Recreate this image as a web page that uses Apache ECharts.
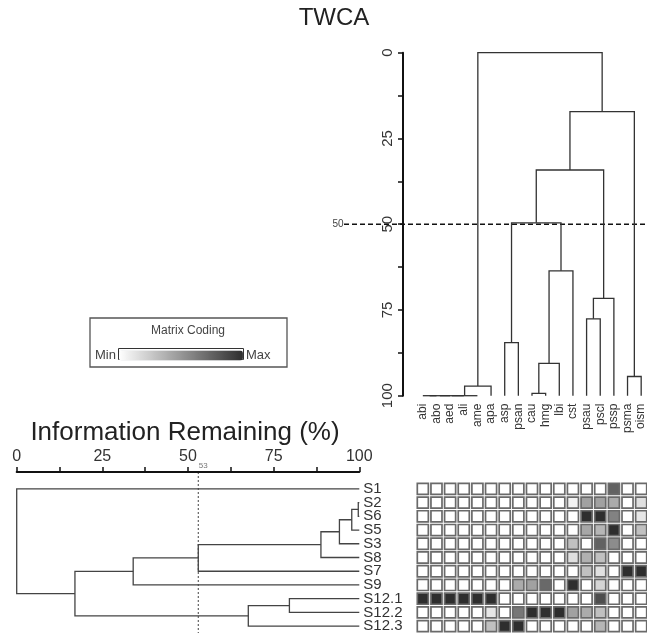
<!DOCTYPE html>
<html><head><meta charset="utf-8">
<script src="https://cdn.jsdelivr.net/npm/echarts@6/dist/echarts.min.js"></script>
<style>html,body{margin:0;padding:0;background:#fff}#c{width:647px;height:633px}</style>
</head><body><div id="c"></div>
<script>
// ---- data ----
const speciesLabels = ['abi','abo','aed','ali','ame','apa','asp','psan','cau','hmg','lbi','cst','psau','pscl','pssp','psma','oism'];
const sampleLabels = ['S1','S2','S6','S5','S3','S8','S7','S9','S12.1','S12.2','S12.3'];
const axisTicks = [0, 25, 50, 75, 100];
const leafHeight = 100;
// R-style merges: negative = leaf (-1 is first leaf), positive = earlier merge number; third = height
const topMerges = [
  [-1,-2,100],[1,-3,100],[2,-4,100],[3,-5,100],[4,-6,97.2],
  [-9,-10,99.3],[-7,-8,84.5],[6,-11,90.6],[8,-12,63.6],
  [-13,-14,77.6],[10,-15,71.6],[-16,-17,94.4],
  [7,9,49.6],[13,11,34.2],[14,12,17.2],[5,15,0]
];
const bottomMerges = [
  [-2,-3,99.7],[1,-4,97.8],[2,-5,94.2],[3,-6,88.8],[4,-7,53],[5,-8,34],
  [-9,-10,79.6],[7,-11,67.6],[6,8,17],[-1,9,0]
];
const topCut = 50;
const bottomCut = 53;
// matrix coding (0 = min, 1 = max), rows follow sampleLabels, columns follow speciesLabels
const rowS1   = [0,0,0,0,0,0,0,0,0,0,0,0,0,0,0.75,0,0];
const rowS2   = [0,0,0,0,0,0,0,0,0,0,0,0.06,0.45,0.45,0.4,0,0.15];
const rowS6   = [0,0,0,0,0,0,0,0,0,0,0,0,1,1,0.6,0,0.12];
const rowS5   = [0,0,0,0,0,0,0,0,0,0,0,0,0.42,0.35,1,0,0.3];
const rowS3   = [0,0,0,0,0,0,0,0,0,0,0,0.3,0,0.75,0.55,0,0];
const rowS8   = [0,0,0,0,0,0,0,0,0,0,0,0.15,0.38,0.3,0,0,0];
const rowS7   = [0,0,0,0,0,0,0,0,0,0,0,0,0.3,0.15,0,1,1];
const rowS9   = [0,0,0,0,0,0,0,0.4,0.45,0.72,0,1,0,0.2,0,0,0];
const rowS121 = [1,1,1,1,1,1,0,0,0,0,0,0,0,0.85,0,0,0];
const rowS122 = [0,0,0,0,0,0.12,0,0.65,1,1,1,0.45,0.4,0.3,0,0,0];
const rowS123 = [0,0,0,0,0,0.3,1,1,0,0,0,0,0,0.35,0,0,0];
const matrixRows = [rowS1,rowS2,rowS6,rowS5,rowS3,rowS8,rowS7,rowS9,rowS121,rowS122,rowS123];

// ---- build ----
function dendroSegments(merges){
  const pos = [], ht = [], segs = [];
  const node = id => id < 0 ? {p: -id - 1, h: leafHeight} : {p: pos[id - 1], h: ht[id - 1]};
  merges.forEach(([a, b, h]) => {
    const A = node(a), B = node(b);
    segs.push([[A.p, A.h], [A.p, h], [B.p, h], [B.p, B.h]]);
    pos.push((A.p + B.p) / 2); ht.push(h);
  });
  return segs;
}
const topSegs = dendroSegments(topMerges);
const bottomSegs = dendroSegments(bottomMerges).map(s => s.map(([p, h]) => [h, p]));
const cells = [];
matrixRows.forEach((row, r) => row.forEach((v, k) => cells.push([k, r, v])));

const FONT = 'Liberation Sans, Arial, sans-serif';
const tickFmt = v => axisTicks.indexOf(v) >= 0 ? String(v) : '';

const chart = echarts.init(document.getElementById('c'), null, {renderer: 'canvas'});
chart.setOption({
  animation: false,
  backgroundColor: '#fff',
  textStyle: {fontFamily: FONT},
  grid: [
    {left: 416, width: 232, top: 52.7, height: 343, outerBoundsMode: 'none'},
    {left: 16.7, width: 342.6, top: 482, height: 151, outerBoundsMode: 'none'},
    {left: 416, width: 232, top: 482, height: 151, outerBoundsMode: 'none'}
  ],
  xAxis: [
    {gridIndex: 0, type: 'category', data: speciesLabels, position: 'bottom', boundaryGap: true,
     axisLine: {show: false, onZero: false}, axisTick: {show: false},
     axisLabel: {rotate: 90, fontSize: 12, margin: 8, color: '#333', fontFamily: FONT, interval: 0}},
    {gridIndex: 0, type: 'value', min: -0.5, max: speciesLabels.length - 0.5, show: false},
    {gridIndex: 1, type: 'value', position: 'top', offset: 10, min: 0, max: 100, interval: 12.5,
     axisLine: {show: true, onZero: false, lineStyle: {color: '#111', width: 2}},
     axisTick: {show: true, length: 5, lineStyle: {color: '#111', width: 1.5}},
     splitLine: {show: false},
     axisLabel: {fontSize: 16, margin: 7, color: '#333', fontFamily: FONT, formatter: tickFmt}},
    {gridIndex: 2, type: 'category', data: speciesLabels, show: false}
  ],
  yAxis: [
    {gridIndex: 0, type: 'value', inverse: true, min: 0, max: 100, interval: 12.5, offset: 13,
     axisLine: {show: true, onZero: false, lineStyle: {color: '#111', width: 2}},
     axisTick: {show: true, length: 5, lineStyle: {color: '#111', width: 1.5}},
     splitLine: {show: false},
     axisLabel: {rotate: 90, fontSize: 15, margin: 8, color: '#333', fontFamily: FONT, formatter: tickFmt}},
    {gridIndex: 1, type: 'category', data: sampleLabels, inverse: true, position: 'right',
     axisLine: {show: false, onZero: false}, axisTick: {show: false},
     axisLabel: {fontSize: 15, margin: 4, color: '#333', fontFamily: FONT, interval: 0}},
    {gridIndex: 1, type: 'value', inverse: true, min: -0.5, max: sampleLabels.length - 0.5, show: false},
    {gridIndex: 2, type: 'category', data: sampleLabels, inverse: true, show: false}
  ],
  visualMap: {
    type: 'continuous', seriesIndex: 2, dimension: 2, min: 0, max: 1,
    orient: 'horizontal', left: 95, top: 349, padding: 0,
    itemWidth: 10, itemHeight: 124, textGap: 3, calculable: false, hoverLink: false,
    text: ['Max', 'Min'], textStyle: {fontSize: 13, color: '#444', fontFamily: FONT},
    inRange: {color: ['#ffffff', '#2e2e2e']}
  },
  series: [
    {type: 'lines', coordinateSystem: 'cartesian2d', xAxisIndex: 1, yAxisIndex: 0, polyline: true,
     silent: true, clip: false, lineStyle: {color: '#333', width: 1.3, opacity: 1},
     data: topSegs.map(c => ({coords: c}))},
    {type: 'lines', coordinateSystem: 'cartesian2d', xAxisIndex: 2, yAxisIndex: 2, polyline: true,
     silent: true, clip: false, lineStyle: {color: '#444', width: 1.3, opacity: 1},
     data: bottomSegs.map(c => ({coords: c}))},
    {type: 'custom', xAxisIndex: 3, yAxisIndex: 3, silent: true, clip: false,
     encode: {x: 0, y: 1},
     data: cells,
     renderItem: function (params, api) {
       const p = api.coord([api.value(0), api.value(1)]);
       const s = api.size([1, 1]);
       const w = s[0], h = s[1];
       return {type: 'rect',
         shape: {x: p[0] - w / 2 + 1.3, y: p[1] - h / 2 + 1.3, width: w - 2.6, height: h - 2.6},
         style: {fill: api.visual('color'), stroke: '#6a6a6a', lineWidth: 1.7}};
     }}
  ]
});

// decorations positioned through the axes
const yCut = chart.convertToPixel({yAxisIndex: 0}, topCut);
const xCut = chart.convertToPixel({xAxisIndex: 2}, bottomCut);
chart.setOption({
  graphic: [
    {type: 'text', x: 334, y: 18, style: {text: 'TWCA', font: '24px ' + FONT, fill: '#222', textAlign: 'center', textVerticalAlign: 'middle'}},
    {type: 'line', shape: {x1: 344, y1: yCut, x2: 647, y2: yCut}, style: {stroke: '#111', lineWidth: 1.5, lineDash: [5, 3]}},
    {type: 'text', x: 338, y: yCut, style: {text: String(topCut), font: '10px ' + FONT, fill: '#444', textAlign: 'center', textVerticalAlign: 'middle'}},
    {type: 'text', x: 185, y: 433, style: {text: 'Information Remaining (%)', font: '26px ' + FONT, fill: '#222', textAlign: 'center', textVerticalAlign: 'middle'}},
    {type: 'line', shape: {x1: xCut, y1: 472, x2: xCut, y2: 633}, style: {stroke: '#444', lineWidth: 1, lineDash: [2, 2]}},
    {type: 'text', x: xCut + 5, y: 466, style: {text: String(bottomCut), font: '8px ' + FONT, fill: '#777', textAlign: 'center', textVerticalAlign: 'middle'}},
    {type: 'rect', shape: {x: 90, y: 318, width: 197, height: 49}, style: {fill: 'none', stroke: '#555', lineWidth: 1.3}},
    {type: 'text', x: 188, y: 331, style: {text: 'Matrix Coding', font: '12px ' + FONT, fill: '#444', textAlign: 'center', textVerticalAlign: 'middle'}},
    {type: 'rect', shape: {x: 118.5, y: 348.5, width: 125, height: 11}, style: {fill: 'none', stroke: '#333', lineWidth: 1}}
  ]
});
</script>
</body></html>
